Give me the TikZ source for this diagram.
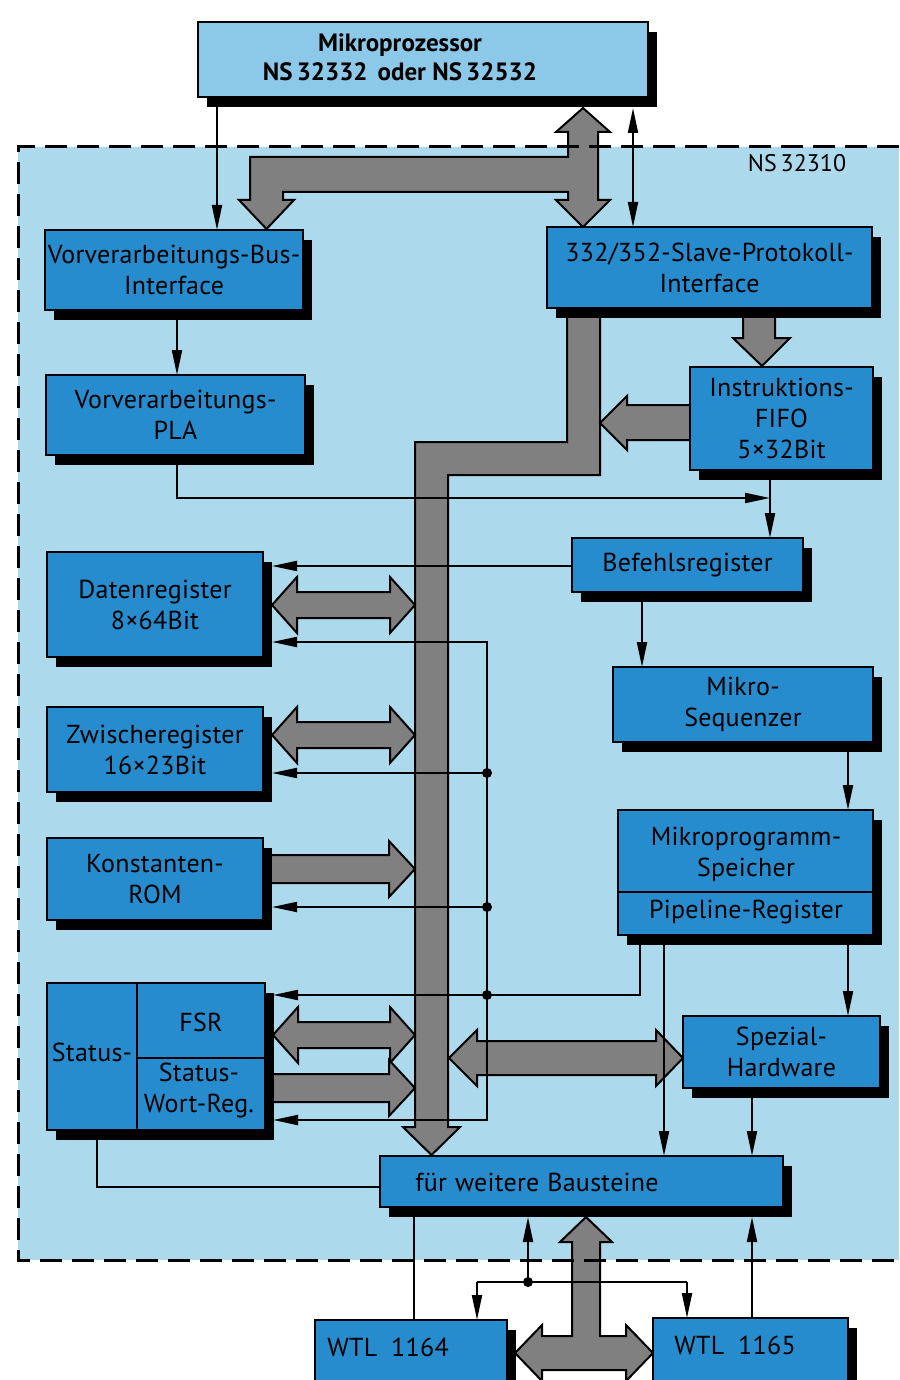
\documentclass[tikz,border=0pt]{standalone}
\usepackage{fontspec}
\setmainfont{PT Sans}
\newfontfamily\lblfont[LetterSpace=1.0]{PT Sans}
\usetikzlibrary{shadows,arrows.meta}
\definecolor{bgblue}{RGB}{172,217,236}
\definecolor{boxblue}{RGB}{38,140,206}
\definecolor{mpblue}{RGB}{140,200,232}
\definecolor{busgray}{RGB}{128,128,128}
\pgfdeclarelayer{back}\pgfdeclarelayer{bus}\pgfdeclarelayer{wires}
\pgfsetlayers{back,bus,wires,main}
\newcommand\bx[7][]{\node[box,#1,minimum width={#5-#3},minimum height={#6-#4}] (#2) at ({(#3+#5)/2},{(#4+#6)/2}) {#7};}
\newcommand\dblarr[3]{% left tip x, right tip x, center y
  \draw[busst] (#1,#3) -- (#1+25,#3-28) -- (#1+25,#3-13) -- (#2-25,#3-13) -- (#2-25,#3-28) -- (#2,#3)
   -- (#2-25,#3+28) -- (#2-25,#3+13) -- (#1+25,#3+13) -- (#1+25,#3+28) -- cycle;}
\newcommand\sglarr[3]{% start x, tip x, center y
  \draw[busst] (#1,#3-14) -- (#2-26,#3-14) -- (#2-26,#3-28) -- (#2,#3) -- (#2-26,#3+28) -- (#2-26,#3+14) -- (#1,#3+14) -- cycle;}
\begin{document}
\begin{tikzpicture}[x=1pt,y=-1pt,
  box/.style={draw=black,line width=2.5pt,fill=boxblue,inner sep=0pt,align=center,
    font=\lblfont\fontsize{26}{31}\selectfont,
    drop shadow={shadow xshift=9pt,shadow yshift=-10pt,fill=black,opacity=1}},
  txt/.style={inner sep=0pt,align=center,font=\lblfont\fontsize{26}{31}\selectfont},
  busst/.style={fill=busgray,draw=black,line width=2pt,line join=miter},
  wire/.style={line width=2pt},
  arr/.style={wire,-{Triangle[length=25pt,width=10pt]}},
  dbl/.style={wire,{Triangle[length=25pt,width=10pt]}-{Triangle[length=25pt,width=10pt]}},
  dashbox/.style={line width=3pt,dash pattern=on 22pt off 10pt}]
\useasboundingbox (0,0) rectangle (899,1380);
\begin{pgfonlayer}{back}
\fill[white] (0,0) rectangle (899,1380);
\fill[bgblue] (18,147) rectangle (899,1260);
\end{pgfonlayer}

% boxes
\bx[fill=mpblue]{mp}{198}{22}{648}{97}{}
\node[inner sep=0pt,align=center,font=\fontsize{25}{29}\bfseries\selectfont] (mpt) at (400,57) {Mikroprozessor\\NS\,32332\hspace{10pt}oder NS\,32532};
\bx{vbi}{45}{230}{303}{310}{Vorverarbeitungs-Bus-\\Interface}
\bx{pla}{46}{375}{305}{455}{Vorverarbeitungs-\\PLA}
\bx{slave}{547}{227}{872}{308}{332/352-Slave-Protokoll-\\Interface}
\bx{fifo}{690}{367}{873}{470}{Instruktions-\\FIFO\\5×32Bit}
\bx{befehl}{572}{538}{803}{592}{Befehlsregister}
\bx{seq}{613}{667}{873}{742}{Mikro-\\Sequenzer}
\bx{mps}{618}{810}{873}{935}{}
\node[txt] (mpst) at (746,854) {Mikroprogramm-\\Speicher};
\node[txt] (pipe) at (746,912) {Pipeline-Register};
\draw[line width=2.5pt] (618,892) coordinate (pa) -- (pa -| mps.east);
\bx{daten}{47}{552}{263}{657}{Datenregister\\8×64Bit}
\bx{zw}{47}{707}{263}{792}{Zwischeregister\\16×23Bit}
\bx{kon}{47}{838}{263}{920}{Konstanten-\\ROM}
\bx{status}{47}{983}{265}{1130}{}
\draw[line width=2.5pt] (137,983) -- (137,1130) (137,1058) -- (265,1058);
\node[txt] (st1) at (92,1052) {Status-};
\node[txt] (fsr) at (201,1022) {FSR};
\node[txt] (swr) at (199,1090) {Status-\\Wort-Reg.};
\bx{weiter}{380}{1156}{783}{1207}{}
\node[txt] (weitert) at (537,1182) {für\hspace{8pt}weitere\hspace{8pt}Bausteine};
\bx{spez}{683}{1016}{880}{1088}{Spezial-\\Hardware}
\bx{wtla}{315}{1320}{507}{1395}{}
\node[txt] (wtlat) at (388,1347) {WTL\hspace{14pt}1164};
\bx{wtlb}{653}{1318}{848}{1395}{}
\node[txt] (wtlbt) at (735,1345) {WTL\hspace{14pt}1165};
\node[inner sep=0pt,font=\fontsize{24}{28}\selectfont] (ns) at (797,163) {NS\,32310};

% buses
\begin{pgfonlayer}{bus}
\draw[busst] (583,108) -- (610,132) -- (598,132) -- (598,200) -- (610,200) -- (583,227) -- (556,200) -- (568,200)
  -- (568,192) -- (283,192) -- (283,200) -- (294,200) -- (266.5,229) -- (239,200) -- (250,200) -- (250,157)
  -- (568,157) -- (568,132) -- (556,132) -- cycle;
\draw[busst] (567,308) -- (600,308) -- (600,475) -- (448,475) -- (448,1127) -- (460,1127) -- (431.5,1155)
  -- (403,1127) -- (415,1127) -- (415,442) -- (567,442) -- cycle;
\draw[busst] (743,308) -- (775,308) -- (775,338) -- (790,338) -- (762,366) -- (733,338) -- (743,338) -- cycle;
\draw[busst] (690,405) -- (627,405) -- (627,396) -- (600,423) -- (627,450) -- (627,440) -- (690,440) -- cycle;
\dblarr{272}{415}{605}
\dblarr{272}{415}{735}
\sglarr{265}{415}{869}
\dblarr{273}{415}{1035}
\sglarr{265}{415}{1088}
\draw[busst] (449,1058) -- (477,1030) -- (477,1041) -- (656,1041) -- (656,1030) -- (683,1058) -- (656,1086)
  -- (656,1075) -- (477,1075) -- (477,1086) -- cycle;
\draw[busst] (515,1353) -- (542,1325) -- (542,1336) -- (572,1336) -- (572,1242) -- (560,1242) -- (586,1217)
  -- (612,1242) -- (600,1242) -- (600,1336) -- (626,1336) -- (626,1325) -- (653,1353) -- (626,1381)
  -- (626,1370) -- (542,1370) -- (542,1381) -- cycle;
\end{pgfonlayer}

% wires
\begin{pgfonlayer}{wires}
\draw[dashbox] (899,147) -- (18,147) -- (18,1260) -- (899,1260);
\draw[arr] (217,97) -- (217,230);
\draw[dbl] (633,108) -- (633,227);
\draw[arr] (177,310) -- (177,375);
\draw[arr] (177,455) -- (177,498) -- (770,498);
\draw[arr] (770,470) -- (770,538);
\draw[arr] (572,566) -- (272,566);
\draw[arr] (642,592) -- (642,667);
\draw[arr] (848,742) -- (848,810);
\draw[arr] (640,935) -- (640,995) -- (273,995);
\draw[arr] (487,995) -- (487,642) -- (272,642);
\draw[arr] (487,773) -- (272,773);
\draw[arr] (487,907) -- (272,907);
\draw[arr] (487,995) -- (487,1120) -- (273,1120);
\fill (487,773) circle[radius=5pt] (487,907) circle[radius=5pt] (487,995) circle[radius=5pt];
\draw[arr] (664,935) -- (664,1156);
\draw[arr] (848,935) -- (848,1016);
\draw[arr] (752,1088) -- (752,1156);
\draw[wire] (97,1130) -- (97,1187) -- (380,1187);
\draw[wire] (414,1207) -- (414,1320);
\draw[arr] (528,1282) -- (528,1217);
\draw[wire] (477,1282) -- (687,1282);
\draw[arr] (477,1282) -- (477,1320);
\draw[arr] (687,1282) -- (687,1318);
\fill (528,1282) circle[radius=5pt];
\draw[arr] (752,1318) -- (752,1217);
\end{pgfonlayer}
\end{tikzpicture}
\end{document}
